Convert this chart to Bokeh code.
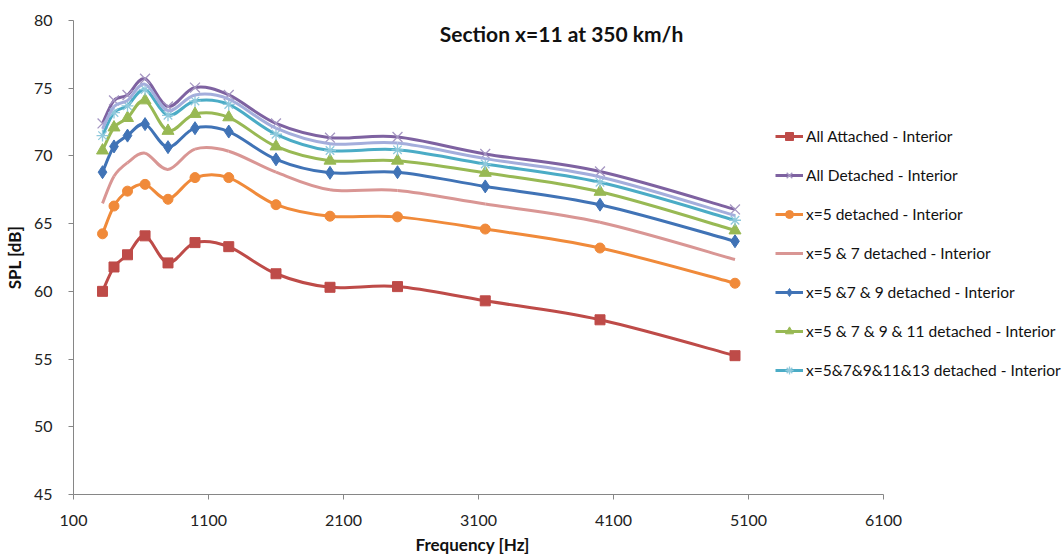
from bokeh.plotting import figure
from bokeh.models import Range1d, Legend, LegendItem, Label, FixedTicker, Title
from bokeh.embed import file_html
from bokeh.resources import INLINE

freq = [315, 400, 500, 630, 800, 1000, 1250, 1600, 2000, 2500, 3150, 4000, 5000]
all_attached = [60.0, 61.8, 62.7, 64.1, 62.1, 63.6, 63.3, 61.3, 60.3, 60.35, 59.3, 57.9, 55.25]
all_detached = [72.4, 74.1, 74.5, 75.7, 73.65, 75.05, 74.5, 72.4, 71.35, 71.4, 70.15, 68.85, 66.05]
x5 = [64.25, 66.3, 67.4, 67.9, 66.8, 68.4, 68.4, 66.4, 65.55, 65.5, 64.6, 63.2, 60.6]
x57 = [66.5, 68.5, 69.5, 70.2, 69.0, 70.5, 70.35, 68.8, 67.5, 67.45, 66.45, 65.1, 62.35]
x579 = [68.8, 70.7, 71.5, 72.35, 70.65, 72.05, 71.8, 69.75, 68.75, 68.8, 67.75, 66.4, 63.7]
x57911 = [70.4, 72.1, 72.8, 74.1, 71.85, 73.1, 72.85, 70.7, 69.65, 69.65, 68.75, 67.35, 64.5]
x5791113 = [71.5, 73.2, 73.7, 74.9, 73.0, 74.05, 73.8, 71.6, 70.4, 70.45, 69.4, 68.05, 65.25]
extra = [72.0, 73.65, 74.1, 75.3, 73.35, 74.5, 74.2, 72.05, 70.9, 70.95, 69.8, 68.45, 65.6]

labels = ["All Attached - Interior", "All Detached - Interior", "x=5 detached - Interior",
          "x=5 & 7 detached - Interior", "x=5 &7 & 9 detached - Interior",
          "x=5 & 7 & 9 & 11 detached - Interior", "x=5&7&9&11&13 detached - Interior"]
x_ticks = [100, 1100, 2100, 3100, 4100, 5100, 6100]
y_ticks = [45, 50, 55, 60, 65, 70, 75, 80]
x_min, x_max = 100, 6100
y_min, y_max = 45, 80

FONT = "Lato"

# frame spans the plot area plus the legend strip to the right; axis stops at x_max
FRAME_L, AXIS_R, FIG_W, FIG_H = 73, 883, 1064, 558
x_end = x_min + (FIG_W - FRAME_L) * (x_max - x_min) / (AXIS_R - FRAME_L)

p = figure(width=FIG_W, height=FIG_H, output_backend="svg", toolbar_location=None,
           x_range=Range1d(x_min, x_end), y_range=Range1d(y_min, y_max),
           min_border_left=FRAME_L, min_border_right=0, min_border_top=20, min_border_bottom=64)
p.outline_line_color = None
p.grid.visible = False
p.background_fill_color = "white"
p.border_fill_color = "white"

for ax in (p.xaxis[0], p.yaxis[0]):
    ax.axis_line_color = "#868686"
    ax.major_tick_line_color = "#868686"
    ax.major_tick_out = 5
    ax.major_tick_in = 0
    ax.minor_tick_line_color = None
    ax.major_label_text_font = FONT
    ax.major_label_text_font_size = "16px"
    ax.major_label_text_color = "#222222"
    ax.axis_label_text_font = FONT
    ax.axis_label_text_font_size = "17px"
    ax.axis_label_text_font_style = "bold"
    ax.axis_label_text_color = "#111111"

p.xaxis[0].ticker = FixedTicker(ticks=x_ticks)
p.yaxis[0].ticker = FixedTicker(ticks=y_ticks)
p.xaxis[0].bounds = (x_min, x_max)
p.xaxis[0].major_label_standoff = 15
p.yaxis[0].major_label_standoff = 16
p.yaxis[0].axis_label = "SPL [dB]"
p.yaxis[0].axis_label_standoff = 6

xlab = Title(text="Frequency [Hz]", align="left", offset=342, standoff=7, text_font=FONT,
             text_font_size="17px", text_font_style="bold", text_color="#111111")
p.add_layout(xlab, "below")


def bez(xs, ys):
    n = len(xs)
    out = dict(x0=[], y0=[], x1=[], y1=[], cx0=[], cy0=[], cx1=[], cy1=[])
    for i in range(n - 1):
        ip = max(i - 1, 0)
        inn = min(i + 2, n - 1)
        out["x0"].append(xs[i]); out["y0"].append(ys[i])
        out["x1"].append(xs[i + 1]); out["y1"].append(ys[i + 1])
        out["cx0"].append(xs[i] + (xs[i + 1] - xs[ip]) / 6.0)
        out["cy0"].append(ys[i] + (ys[i + 1] - ys[ip]) / 6.0)
        out["cx1"].append(xs[i + 1] - (xs[inn] - xs[i]) / 6.0)
        out["cy1"].append(ys[i + 1] - (ys[inn] - ys[i]) / 6.0)
    return out


series = [
    (all_attached, "#BE4B48", "square", "#BE4B48", 10, 0),
    (all_detached, "#7E62A1", "x", "#A596C2", 14, 1),
    (x5, "#F08A3A", "circle", "#F08A3A", 10, 2),
    (x57, "#D99694", None, None, 0, 3),
    (x579, "#4073B6", "diamond", "#4073B6", 13, 4),
    (x57911, "#98B954", "triangle", "#98B954", 12, 5),
    (x5791113, "#4BACC6", "asterisk", "#8FC9DC", 12, 6),
    (extra, "#A4AEDC", None, None, 0, None),
]

items = {}
for vals, lc, mk, mc, sz, li in series:
    rs = []
    b = p.bezier(line_color=lc, line_width=3, **bez(freq, vals))
    rs.append(b)
    if mk is not None:
        if mk in ("x", "asterisk"):
            s = p.scatter(freq, vals, marker=mk, size=sz, line_color=mc, line_width=1.3)
        else:
            s = p.scatter(freq, vals, marker=mk, size=sz, fill_color=mc, line_color=mc)
        rs.append(s)
    if li is not None:
        items[li] = LegendItem(label=labels[li], renderers=rs)

legend = Legend(items=[items[i] for i in range(7)], location=(702, 114),
                orientation="vertical", padding=0, margin=0, spacing=19,
                label_height=20, glyph_height=20, glyph_width=28, label_standoff=3,
                label_text_font=FONT, label_text_font_size="15.5px", label_text_color="#111111",
                border_line_color=None, background_fill_alpha=0)
p.add_layout(legend, "center")

title = Label(x=488, y=461, x_units="screen", y_units="screen",
              text="Section x=11 at 350 km/h", text_font=FONT, text_font_size="21px",
              text_font_style="bold", text_align="center", text_baseline="middle",
              text_color="#111111")
p.add_layout(title)

open("out.html", "w").write(file_html(p, INLINE))
